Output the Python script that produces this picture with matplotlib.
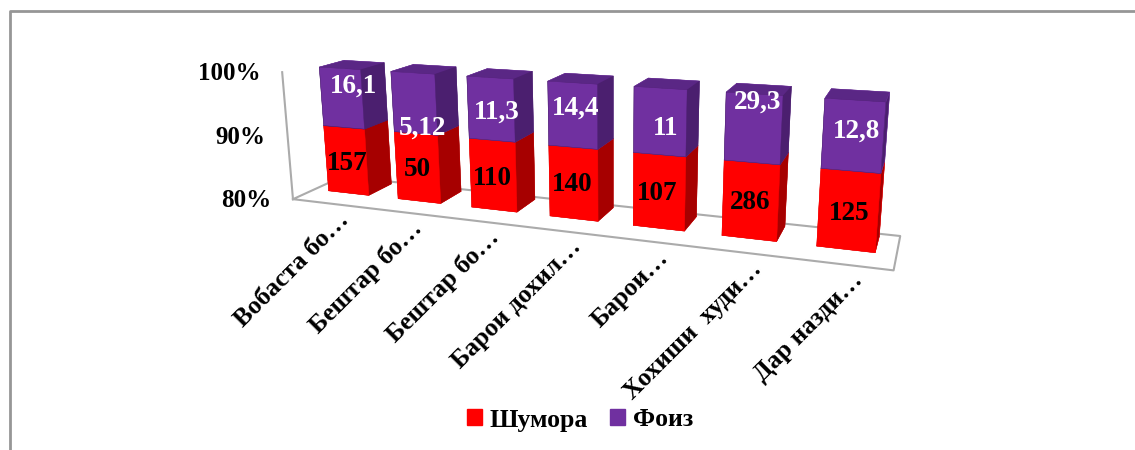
import numpy as np
import matplotlib
matplotlib.use("Agg")
import matplotlib.pyplot as plt
from matplotlib.lines import Line2D
from matplotlib.patches import Patch
from mpl_toolkits.mplot3d import proj3d

categories = ["Вобаста бо…", "Бештар бо…", "Бештар бо…", "Барои дохил…",
              "Барои…", "Хохиши  худи…", "Дар назди…"]
shumora = [157, 50, 110, 140, 107, 286, 125]
foiz = [16.1, 5.12, 11.3, 14.4, 11, 29.3, 12.8]
foiz_labels = ["16,1", "5,12", "11,3", "14,4", "11", "29,3", "12,8"]
z_ticks = [80, 90, 100]

# pixel nudges of the data labels away from the middle of the front face
red_dx = [1, 0, -1, -1, -2, 0, 1]
red_dy = [-3, -2, -3, -1, -2, -2, -3]
pur_dx = [12, 8, 6, 3, 6, 5, 4]
pur_dy = [12, -25, -3, 7, -7, 26, 5]

RED = ['#c00000', '#c00000', '#ff0000', '#a00000', '#ff0000', '#a60000']
PURPLE = ['#4b1f6f', '#5a2785', '#7030a0', '#4b1f6f', '#7030a0', '#4b1f6f']
GREY = '#ababab'
FONT = 'Liberation Serif'

plt.rcParams['font.family'] = FONT
plt.rcParams['font.weight'] = 'bold'

W, H = 1135, 450
fig = plt.figure(figsize=(W / 100, H / 100), dpi=100)

# camera settings found with a separate search against the picture
ax = fig.add_axes([254.19 / W, 1 - (-154.71 + 626.41) / H, 626.41 / W, 626.41 / H], projection='3d',
                  computed_zorder=False)
ax.view_init(elev=14.5054, azim=-68.8594, roll=0.5512)
ax.set_proj_type('persp', focal_length=0.2907)
ax.set_box_aspect((1, 0.1509, 0.2239))
ax.set_axis_off()

bar_w, y_front, y_back = 0.585, 0.4195, 0.9173
n = len(categories)
s = np.array(shumora, float)
f = np.array(foiz, float)
share = 100 * s / (s + f)
x = np.arange(n) + 0.5 - bar_w / 2
yy = np.full(n, y_front)

ax.plot([0, 7, 7, 0, 0], [0, 0, 1, 1, 0], [80] * 5, color=GREY, lw=1.5, zorder=1, clip_on=False)
ax.plot([0, 0], [0, 0], [80, 100], color=GREY, lw=1.5, zorder=1, clip_on=False)

b1 = ax.bar3d(x, yy, np.full(n, 80.0), bar_w, y_back - y_front, share - 80, color=RED * n, shade=False, zorder=2)
b2 = ax.bar3d(x, yy, share, bar_w, y_back - y_front, 100 - share, color=PURPLE * n, shade=False, zorder=3)
for b in (b1, b2):
    b.set_clip_on(False)
    b.set_edgecolor('face')
    b.set_linewidth(0.3)

ax.set_xlim(0, 7, view_margin=0)
ax.set_ylim(0, 1, view_margin=0)
ax.set_zlim(80, 100, view_margin=0)
M = ax.get_proj()


def label(xv, yv, zv, txt, dx, dy, **kw):
    px, py, _ = proj3d.proj_transform(xv, yv, zv, M)
    ax.annotate(txt, (px, py), xytext=(dx, dy), textcoords='offset pixels', annotation_clip=False, zorder=5, **kw)


for i in range(n):
    xc = i + 0.5
    label(xc, y_front, (80 + share[i]) / 2, str(shumora[i]), red_dx[i], red_dy[i],
          color='black', fontsize=19.5, ha='center', va='center')
    label(xc, y_front, (100 + share[i]) / 2, foiz_labels[i], pur_dx[i], pur_dy[i],
          color='white', fontsize=19.5, ha='center', va='center')
    label(xc, 0, 80, categories[i], 18, -13, color='black', fontsize=18.5, ha='right', va='center',
          rotation=45, rotation_mode='anchor')

for z in z_ticks:
    label(0, 0, z, "%d%%" % z, -22, -1, color='black', fontsize=18, ha='right', va='center')

# outer frame, cut off by the picture on the other sides
fig.add_artist(Line2D([9.5 / W, 9.5 / W, 1], [0, 1 - 11 / H, 1 - 11 / H], color='#969696', lw=2))

handles = [Patch(color='#ff0000', label='Шумора'), Patch(color='#7030a0', label='Фоиз')]
fig.legend(handles=handles, loc='center', bbox_to_anchor=(580 / W, 1 - 420 / H), ncol=2, frameon=False,
           fontsize=18.5, handlelength=0.58, handleheight=0.58, handletextpad=0.3, columnspacing=0.85)

fig.savefig('out.png', dpi=100)
